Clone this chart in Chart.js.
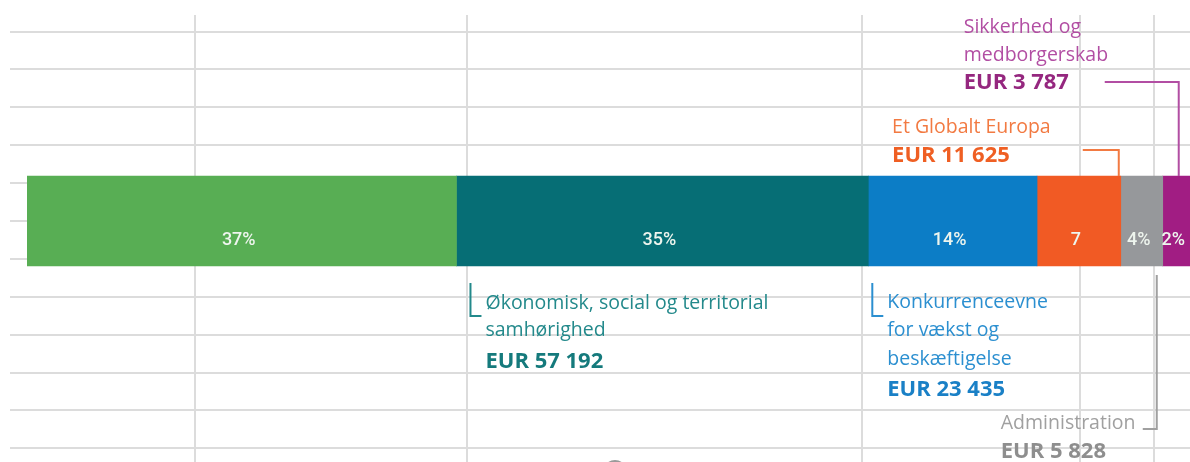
<!DOCTYPE html>
<html>
<head>
<meta charset="utf-8">
<script src="https://cdn.jsdelivr.net/npm/chart.js@4/dist/chart.umd.min.js"></script>
<style>
  html, body { margin: 0; padding: 0; background: #fff; }
  #wrap { width: 1190px; height: 462px; position: relative; }
</style>
</head>
<body>
<div id="wrap"><canvas id="myChart"></canvas></div>
<script>
// EU budget split (mio EUR), one stacked bar
const categories = [
	"Bæredygtig vækst: naturressourcer",
	"Økonomisk, social og territorial samhørighed",
	"Konkurrenceevne for vækst og beskæftigelse",
	"Et Globalt Europa",
	"Administration",
	"Sikkerhed og medborgerskab"
];
const amounts = [59642, 57192, 23435, 11625, 5828, 3787];
const barLabels = ["37%", "35%", "14%", "7", "4%", "2%"];
const amountLabels = ["", "EUR 57 192", "EUR 23 435", "EUR 11 625", "EUR 5 828", "EUR 3 787"];
const nameLines = [
	[],
	["Økonomisk, social og territorial", "samhørighed"],
	["Konkurrenceevne", "for vækst og", "beskæftigelse"],
	["Et Globalt Europa"],
	["Administration"],
	["Sikkerhed og", "medborgerskab"]
];
const barColours = ['#58ae54', '#066e75', '#0c7dc6', '#f15a24', '#96989b', '#a11d83'];
const nameColours = ['', '#23898b', '#2b8fd0', '#f27a42', '#a0a0a0', '#b24ea3'];
const amountColours = ['', '#157a7c', '#1a80c6', '#ef5f23', '#8e8e8e', '#95277f'];

const total = amounts.reduce((a, b) => a + b, 0);

// spreadsheet cell borders behind the chart
const sheetGrid = {
	id: 'sheetGrid',
	beforeDraw(chart) {
		const ctx = chart.ctx;
		ctx.save();
		ctx.fillStyle = '#fff';
		ctx.fillRect(0, 0, chart.width, chart.height);
		ctx.strokeStyle = '#dcdcdc';
		ctx.lineWidth = 2;
		for (let y = 31.5; y < chart.height; y += 37.9) {
			ctx.beginPath();
			ctx.moveTo(10, Math.round(y));
			ctx.lineTo(chart.width, Math.round(y));
			ctx.stroke();
		}
		[195, 467, 862, 1080, 1154].forEach((x) => {
			ctx.beginPath();
			ctx.moveTo(x, 15);
			ctx.lineTo(x, chart.height);
			ctx.stroke();
		});
		ctx.strokeStyle = '#9a9a9a';
		ctx.lineWidth = 2;
		ctx.beginPath();
		ctx.arc(615, 472, 11, 0, Math.PI * 2);
		ctx.stroke();
		ctx.restore();
	}
};

const labelsPlugin = {
	id: 'labelsPlugin',
	afterDatasetsDraw(chart) {
		const ctx = chart.ctx;
		ctx.save();
		const els = chart.data.datasets.map((d, i) => chart.getDatasetMeta(i).data[0]);

		// percentages inside the bar
		ctx.font = '500 18px Roboto';
		ctx.fillStyle = '#eef5ee';
		ctx.textAlign = 'center';
		ctx.textBaseline = 'middle';
		els.forEach((el, i) => {
			const cx = (el.x + el.base) / 2 - 3;
			ctx.fillText(barLabels[i], cx, el.y + 19);
		});

		const el0 = els[0];
		const top = el0.y - el0.height / 2;
		const bottom = el0.y + el0.height / 2;

		const drawText = (i, x, ys) => {
			ctx.textAlign = 'left';
			ctx.font = '19.5px "Open Sans"';
			ctx.fillStyle = nameColours[i];
			nameLines[i].forEach((t, k) => ctx.fillText(t, x, ys[k]));
			ctx.font = 'bold 22px "Open Sans"';
			ctx.fillStyle = amountColours[i];
			ctx.fillText(amountLabels[i], x, ys[nameLines[i].length]);
		};
		const leader = (i, pts) => {
			ctx.strokeStyle = nameColours[i];
			ctx.lineWidth = 2;
			ctx.beginPath();
			ctx.moveTo(pts[0][0], pts[0][1]);
			pts.slice(1).forEach((p) => ctx.lineTo(p[0], p[1]));
			ctx.stroke();
		};

		// samhørighed
		let s = els[1].base;
		leader(1, [[s + 14, bottom + 17], [s + 14, bottom + 50], [s + 25, bottom + 50]]);
		drawText(1, s + 29, [bottom + 37, bottom + 64, bottom + 96]);

		// konkurrenceevne
		s = els[2].base;
		leader(2, [[s + 4, bottom + 17], [s + 4, bottom + 50], [s + 15, bottom + 50]]);
		drawText(2, s + 19, [bottom + 36, bottom + 64, bottom + 93, bottom + 124]);

		// globalt europa
		let e = els[3].x;
		leader(3, [[e - 2, top], [e - 2, top - 26], [e - 38, top - 26]]);
		drawText(3, els[3].base - 145, [top - 49, top - 20]);

		// administration
		s = els[4].base;
		leader(4, [[s + 36, bottom + 9], [s + 36, bottom + 163], [s + 22, bottom + 163]]);
		drawText(4, s - 120, [bottom + 157, bottom + 186]);

		// sikkerhed
		s = els[5].base;
		leader(5, [[s + 16, top], [s + 16, top - 94], [s - 58, top - 94]]);
		drawText(5, s - 199, [top - 149, top - 121, top - 93]);

		ctx.restore();
	}
};

const ctx = document.getElementById('myChart');
const chart = new Chart(ctx, {
	type: 'bar',
	data: {
		labels: [''],
		datasets: categories.map((c, i) => ({
			label: c,
			data: [amounts[i]],
			backgroundColor: barColours[i],
			borderWidth: 0,
			barThickness: 90
		}))
	},
	options: {
		indexAxis: 'y',
		responsive: true,
		maintainAspectRatio: false,
		animation: false,
		layout: { padding: { left: 27, right: 0, top: 0, bottom: 20 } },
		plugins: {
			legend: { display: false },
			tooltip: { enabled: false }
		},
		scales: {
			x: { stacked: true, display: false, min: 0, max: total },
			y: { stacked: true, display: false }
		}
	},
	plugins: [sheetGrid, labelsPlugin]
});
</script>
</body>
</html>
